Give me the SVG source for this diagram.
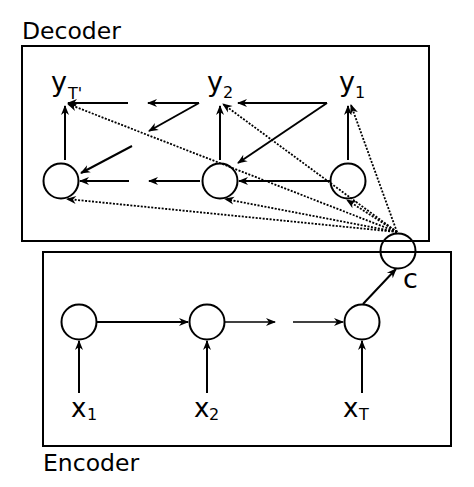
<svg xmlns="http://www.w3.org/2000/svg" width="474" height="487" viewBox="0 0 474 487">
<style>
.box{fill:none;stroke:#000;stroke-width:2}
.node{fill:#fff;stroke:#000;stroke-width:2}
.open{fill:none}
.lbl{font-family:"DejaVu Sans",sans-serif;fill:#000}
.big{font-size:27px}
.xb{font-size:26px}
.sub{font-size:16px}
.ttl{font-size:23.5px}
.a{fill:none;stroke:#000;stroke-width:2;marker-end:url(#ah)}
.d{fill:none;stroke:#000;stroke-width:1.8;stroke-dasharray:2,1.5;marker-end:url(#ah)}
</style>
<defs>
<marker id="ah" viewBox="-10 -5 12 10" markerWidth="12" markerHeight="10" refX="0" refY="0" orient="auto" markerUnits="userSpaceOnUse">
<path d="M1,0 L-9,-4 L-6,0 L-9,4 z" fill="#000"/>
</marker>
</defs>
<rect class="box" x="22" y="46" width="407" height="195"/>
<rect class="box" x="43" y="252" width="408" height="194"/>
<text class="lbl ttl" x="22" y="39">Decoder</text>
<text class="lbl ttl" x="43" y="471">Encoder</text>
<g id="connectors">
<line class="a" x1="65" y1="160" x2="65" y2="106"/>
<line class="a" x1="220" y1="160" x2="220" y2="106"/>
<line class="a" x1="348" y1="160" x2="348" y2="106"/>
<line class="a" x1="128" y1="103" x2="68" y2="103"/>
<line class="a" x1="199" y1="103" x2="148" y2="103"/>
<line class="a" x1="327" y1="103" x2="238" y2="103"/>
<line class="a" x1="199" y1="103" x2="149" y2="131"/>
<line class="a" x1="132" y1="146" x2="81" y2="173"/>
<line class="a" x1="327" y1="103" x2="238" y2="163"/>
<line class="a" x1="129" y1="181" x2="80" y2="181"/>
<line class="a" x1="200" y1="181" x2="149" y2="181"/>
<line class="a" x1="330" y1="181" x2="239" y2="181"/>
<line class="d" x1="397" y1="232" x2="68" y2="104"/>
<line class="d" x1="397" y1="232" x2="223" y2="104"/>
<line class="d" x1="397" y1="232" x2="351" y2="105"/>
<line class="d" x1="397" y1="232" x2="67" y2="199"/>
<line class="d" x1="397" y1="232" x2="225" y2="199"/>
<line class="d" x1="397" y1="232" x2="347" y2="200"/>
<line class="a" x1="79" y1="393" x2="79" y2="341"/>
<line class="a" x1="207" y1="393" x2="207" y2="341"/>
<line class="a" x1="362" y1="393" x2="362" y2="341"/>
<line class="a" x1="97" y1="322" x2="188" y2="322" style="stroke-width:2.2"/>
<line class="a" x1="225" y1="322" x2="275" y2="322" style="stroke-width:1.4"/>
<line class="a" x1="293" y1="322" x2="343" y2="322" style="stroke-width:1.4"/>
<line class="a" x1="363" y1="304" x2="396" y2="269"/>
</g>
<g id="dec1"><circle class="node open" cx="61" cy="181" r="17.5"/></g>
<g id="dec2"><circle class="node open" cx="220" cy="181" r="17.5"/></g>
<g id="dec3"><circle class="node open" cx="348" cy="181" r="17.5"/></g>
<g id="c"><circle class="node open" cx="398" cy="251" r="17.5"/>
<text class="lbl big" x="403" y="288">c</text></g>
<g id="enc1"><circle class="node" cx="79" cy="322" r="17.5"/></g>
<g id="enc2"><circle class="node" cx="207" cy="322" r="17.5"/></g>
<g id="enc3"><circle class="node" cx="362" cy="322" r="17.5"/></g>
<g id="yT"><text class="lbl big" x="51" y="91">y</text><text class="lbl sub" x="68" y="99">T'</text></g>
<g id="y2"><text class="lbl big" x="207" y="91">y</text><text class="lbl sub" x="223" y="98">2</text></g>
<g id="y1"><text class="lbl big" x="339" y="91">y</text><text class="lbl sub" x="355" y="98">1</text></g>
<g id="x1"><text class="lbl xb" x="71" y="417">x</text><text class="lbl sub" x="87" y="420">1</text></g>
<g id="x2"><text class="lbl xb" x="194" y="417">x</text><text class="lbl sub" x="209" y="420">2</text></g>
<g id="xT"><text class="lbl xb" x="343" y="417">x</text><text class="lbl sub" x="359" y="420">T</text></g>
</svg>
